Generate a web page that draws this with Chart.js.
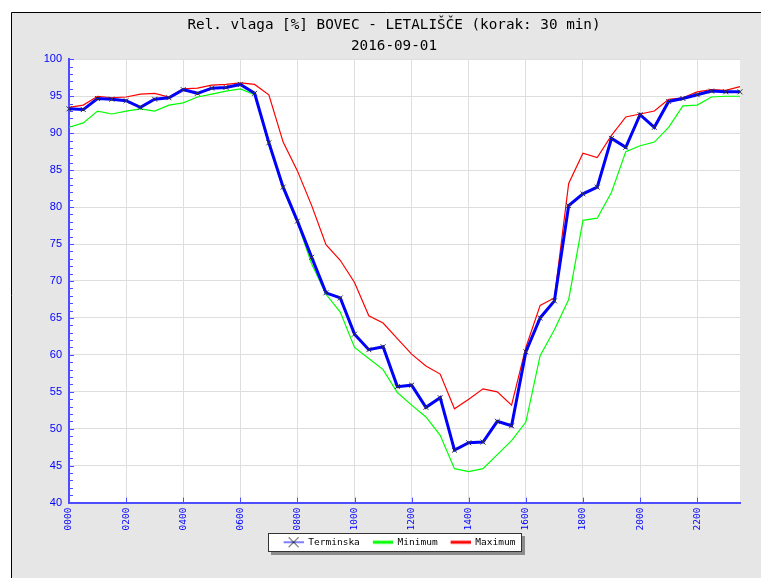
<!DOCTYPE html>
<html>
<head>
<meta charset="utf-8">
<script src="https://cdn.jsdelivr.net/npm/chart.js@4.4.1/dist/chart.umd.min.js"></script>
<style>
  html, body { margin: 0; padding: 0; background: #fff; }
  #wrap { width: 761px; height: 578px; }
</style>
</head>
<body>
<div id="wrap"><canvas id="chart" width="761" height="578"></canvas></div>
<script>
// time of day, every 30 min
const times = ['0000','0030','0100','0130','0200','0230','0300','0330','0400','0430','0500','0530',
  '0600','0630','0700','0730','0800','0830','0900','0930','1000','1030','1100','1130',
  '1200','1230','1300','1330','1400','1430','1500','1530','1600','1630','1700','1730',
  '1800','1830','1900','1930','2000','2030','2100','2130','2200','2230','2300','2330'];

const terminska = [93.3, 93.2, 94.7, 94.6, 94.4, 93.5, 94.6, 94.8, 95.9, 95.4, 96.1, 96.2,
  96.6, 95.4, 88.7, 82.7, 78.1, 73.2, 68.4, 67.7, 62.8, 60.7, 61.1, 55.7,
  55.9, 52.9, 54.2, 47.1, 48.1, 48.2, 51.0, 50.4, 60.4, 65.0, 67.3, 80.2,
  81.8, 82.7, 89.3, 88.1, 92.5, 90.8, 94.3, 94.7, 95.2, 95.7, 95.6, 95.6];

const minimum = [90.8, 91.4, 93.0, 92.6, 93.0, 93.3, 93.0, 93.8, 94.1, 94.9, 95.3, 95.7,
  96.0, 95.2, 88.5, 82.5, 77.9, 72.3, 68.2, 65.8, 61.0, 59.5, 58.0, 54.9,
  53.2, 51.6, 49.1, 44.6, 44.2, 44.6, 46.5, 48.4, 50.9, 59.9, 63.4, 67.5,
  78.2, 78.5, 82.0, 87.5, 88.3, 88.8, 90.8, 93.7, 93.8, 94.9, 95.0, 95.0];

const maximum = [93.5, 93.8, 95.0, 94.8, 94.9, 95.3, 95.4, 94.9, 96.0, 96.1, 96.5, 96.6,
  96.8, 96.6, 95.2, 88.8, 84.9, 80.2, 74.9, 72.8, 69.8, 65.3, 64.3, 62.2,
  60.1, 58.5, 57.4, 52.7, 54.0, 55.4, 55.0, 53.2, 61.0, 66.7, 67.7, 83.2,
  87.3, 86.7, 89.7, 92.2, 92.6, 93.0, 94.6, 94.8, 95.6, 95.9, 95.8, 96.3];

const yMin = 40, yMax = 100, yStep = 5;
const labelEvery = 4;

const BLUE = '#0000ff';
const AXIS = '#4d4dff';
const MONO = '"DejaVu Sans Mono", monospace';

// legend icons (line, with cross for terminska)
function legendIcon(color, cross) {
  const c = document.createElement('canvas');
  c.width = 31; c.height = 12;
  const g = c.getContext('2d');
  g.strokeStyle = color;
  g.lineWidth = cross ? 1 : 3;
  g.beginPath(); g.moveTo(11, 6); g.lineTo(31, 6); g.stroke();
  if (cross) {
    g.strokeStyle = '#222';
    g.lineWidth = 1;
    g.beginPath();
    g.moveTo(16, 1); g.lineTo(26, 11);
    g.moveTo(26, 1); g.lineTo(16, 11);
    g.stroke();
  }
  return c;
}
const icons = [legendIcon(BLUE, true), legendIcon('#00ff00', false), legendIcon('#ff0000', false)];

const framePlugin = {
  id: 'frame',
  afterLayout(chart) {
    // let the y tick labels use the room left of the axis box
    chart.scales.y.left = 12;
  },
  beforeDraw(chart) {
    const ctx = chart.ctx;
    const a = chart.chartArea;
    ctx.save();
    ctx.fillStyle = '#ffffff';
    ctx.fillRect(0, 0, chart.width, chart.height);
    ctx.fillStyle = '#e6e6e6';
    ctx.fillRect(11, 12, chart.width - 11, chart.height - 12);
    ctx.strokeStyle = '#000';
    ctx.lineWidth = 1;
    ctx.beginPath();
    ctx.moveTo(11.5, chart.height); ctx.lineTo(11.5, 12.5); ctx.lineTo(chart.width, 12.5);
    ctx.stroke();
    ctx.fillStyle = '#ffffff';
    ctx.fillRect(a.left, a.top, a.right - a.left, a.bottom - a.top);

    // legend box with shadow
    const boxes = chart.legend.legendHitBoxes;
    if (boxes && boxes.length) {
      let l = Infinity, r = -Infinity, t = Infinity, b = -Infinity;
      boxes.forEach(h => {
        l = Math.min(l, h.left); r = Math.max(r, h.left + h.width);
        t = Math.min(t, h.top); b = Math.max(b, h.top + h.height);
      });
      l = Math.round(l) - 5; r = Math.round(r) + 7; t = Math.round(t) - 5; b = Math.round(b) + 5;
      ctx.fillStyle = '#8c8c8c';
      ctx.fillRect(l + 3, t + 3, r - l, b - t);
      ctx.fillStyle = '#ffffff';
      ctx.fillRect(l, t, r - l, b - t);
      ctx.strokeStyle = '#333';
      ctx.strokeRect(l + 0.5, t + 0.5, r - l - 1, b - t - 1);
    }
    ctx.restore();
  },
  beforeDatasetsDraw(chart) {
    const ctx = chart.ctx;
    const a = chart.chartArea;
    const ys = chart.scales.y, xs = chart.scales.x;
    ctx.save();
    ctx.strokeStyle = AXIS;
    ctx.lineWidth = 1;
    ctx.beginPath();
    for (let v = yMin; v <= yMax; v++) {
      const y = Math.round(ys.getPixelForValue(v)) + 0.5;
      ctx.moveTo(a.left, y);
      ctx.lineTo(a.left + (v % yStep === 0 ? 5 : 4), y);
    }
    for (let i = 0; i < times.length; i += labelEvery) {
      const x = Math.round(xs.getPixelForValue(i)) + 0.5;
      ctx.moveTo(x, a.bottom);
      ctx.lineTo(x, a.bottom - 5);
    }
    ctx.stroke();
    ctx.restore();
  }
};

new Chart(document.getElementById('chart'), {
  type: 'line',
  data: {
    labels: times,
    datasets: [
      {
        label: 'Terminska',
        data: terminska,
        borderColor: BLUE,
        borderWidth: 3,
        pointStyle: 'crossRot',
        pointRadius: 3.5,
        pointBorderColor: '#333',
        pointBorderWidth: 1,
        tension: 0
      },
      {
        label: 'Minimum',
        data: minimum,
        borderColor: '#00ff00',
        borderWidth: 1.2,
        pointRadius: 0,
        tension: 0
      },
      {
        label: 'Maximum',
        data: maximum,
        borderColor: '#ff0000',
        borderWidth: 1.2,
        pointRadius: 0,
        tension: 0
      }
    ]
  },
  options: {
    responsive: false,
    animation: false,
    devicePixelRatio: 1,
    layout: { padding: { left: 48, right: 21, top: 12, bottom: 21 } },
    plugins: {
      title: {
        display: true,
        text: 'Rel. vlaga [%] BOVEC - LETALIŠČE (korak: 30 min)',
        color: '#000',
        font: { family: MONO, size: 14.3, weight: 'normal' },
        padding: { top: 5, bottom: 2 }
      },
      subtitle: {
        display: true,
        text: '2016-09-01',
        color: '#000',
        font: { family: MONO, size: 14.3, weight: 'normal' },
        padding: { top: 2, bottom: 4 }
      },
      legend: {
        position: 'bottom',
        labels: {
          usePointStyle: true,
          pointStyleWidth: 31,
          boxHeight: 10,
          padding: 2,
          color: '#000',
          font: { family: MONO, size: 9.5 },
          generateLabels(chart) {
            return chart.data.datasets.map((ds, i) => ({
              text: ds.label,
              pointStyle: icons[i],
              strokeStyle: ds.borderColor,
              fillStyle: ds.borderColor,
              lineWidth: 0,
              hidden: false,
              datasetIndex: i
            }));
          }
        }
      },
      tooltip: { enabled: false }
    },
    scales: {
      x: {
        type: 'category',
        offset: false,
        grid: {
          color: (c) => (c.index % labelEvery === 0 ? '#dedede' : 'rgba(0,0,0,0)'),
          drawTicks: false
        },
        border: { color: AXIS, width: 2 },
        ticks: {
          autoSkip: false,
          minRotation: 90,
          maxRotation: 90,
          padding: 5,
          color: BLUE,
          font: { family: MONO, size: 9.5 },
          callback: (v, i) => (i % labelEvery === 0 ? times[i] : '')
        }
      },
      y: {
        min: yMin,
        max: yMax,
        afterFit(scale) { scale.width = 21; },
        grid: { color: '#dedede', drawTicks: false },
        border: { color: AXIS, width: 2 },
        ticks: {
          stepSize: yStep,
          padding: 7,
          color: BLUE,
          font: { family: '"Liberation Sans", Arial, sans-serif', size: 11 }
        }
      }
    }
  },
  plugins: [framePlugin]
});
</script>
</body>
</html>
